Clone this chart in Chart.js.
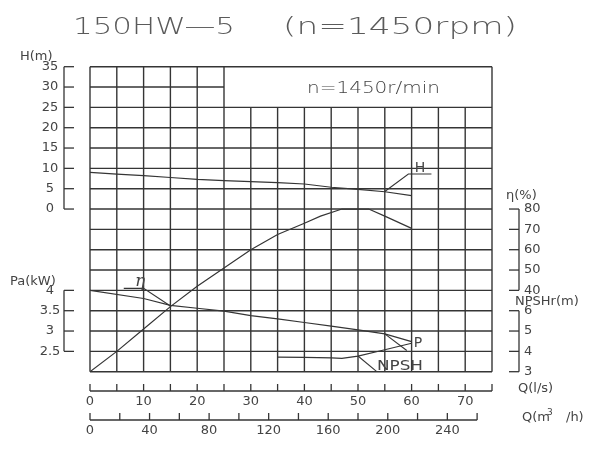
<!DOCTYPE html>
<html>
<head>
<meta charset="utf-8">
<script src="https://cdn.jsdelivr.net/npm/chart.js@4"></script>
<style>
  body { margin: 0; background: #fff; }
  canvas { display: block; }
</style>
</head>
<body>
<canvas id="pump" width="600" height="450"></canvas>
<script>
// curve data (flow in l/s)
const qHead = [0, 5, 10, 15, 20, 25, 30, 35, 40, 45, 50, 55, 60];
const head = [9.0, 8.6, 8.2, 7.75, 7.3, 7.0, 6.75, 6.5, 6.15, 5.35, 4.85, 4.25, 3.3];

const qEta = [0, 5, 10, 15, 20, 25, 30, 35, 40, 43, 47, 52, 55, 60];
const efficiency = [0, 10, 21, 32, 42, 51, 60, 67.5, 73, 76.5, 80, 80, 76.5, 70.5];

const qPower = [0, 10, 15, 20, 25, 30, 35, 40, 45, 50, 55, 60];
const power = [4.0, 3.8, 3.63, 3.56, 3.49, 3.38, 3.3, 3.21, 3.12, 3.03, 2.93, 2.74];

const qNpsh = [35, 40, 45, 47, 50, 55, 60];
const npsh = [3.72, 3.7, 3.68, 3.66, 3.77, 4.08, 4.4];

// axis ticks
const hTicks = [0, 5, 10, 15, 20, 25, 30, 35];
const paTicks = ['2.5', '3', '3.5', '4'];
const etaTicks = [40, 50, 60, 70, 80];
const npshTicks = [3, 4, 5, 6];
const qLsMarks = [0, 5, 10, 15, 20, 25, 30, 35, 40, 45, 50, 55, 60, 65, 70, 75];
const qLsLabels = [0, 10, 20, 30, 40, 50, 60, 70];
const qM3Marks = [0, 20, 40, 60, 80, 100, 120, 140, 160, 180, 200, 220, 240, 260];
const qM3Labels = [0, 40, 80, 120, 160, 200, 240];

const ink = '#353535';
const textInk = '#444';

function pts(xs, ys) {
    return xs.map((x, i) => ({ x: x, y: ys[i] }));
}

function line(ctx, x1, y1, x2, y2) {
    ctx.beginPath();
    ctx.moveTo(x1, y1);
    ctx.lineTo(x2, y2);
    ctx.stroke();
}

// text squeezed/stretched into a given width (cad font is wide)
function fitText(ctx, txt, x1, x2, y, font) {
    ctx.save();
    ctx.font = font;
    ctx.textAlign = 'left';
    ctx.textBaseline = 'middle';
    const w = ctx.measureText(txt).width;
    ctx.translate(x1, y);
    ctx.scale((x2 - x1) / w, 1);
    ctx.fillText(txt, 0, 0);
    ctx.restore();
}

function label(ctx, txt, x, y, align) {
    ctx.textAlign = align || 'center';
    ctx.textBaseline = 'middle';
    ctx.fillText(txt, x, y);
}

const sheetPlugin = {
    id: 'sheet',
    beforeDatasetsDraw(chart) {
        const ctx = chart.ctx;
        const s = chart.scales;
        const X = v => s.x.getPixelForValue(v);
        const H = v => s.yH.getPixelForValue(v);
        ctx.save();
        ctx.strokeStyle = ink;
        ctx.lineWidth = 1.4;
        // vertical grid
        qLsMarks.forEach(q => {
            const top = (q <= 25 || q === 75) ? 35 : 25;
            line(ctx, X(q), H(top), X(q), H(-40));
        });
        // horizontal grid
        for (let h = -40; h <= 25; h += 5) line(ctx, X(0), H(h), X(75), H(h));
        line(ctx, X(0), H(30), X(25), H(30));
        line(ctx, X(0), H(35), X(75), H(35));
        ctx.restore();
    },
    afterDraw(chart) {
        const ctx = chart.ctx;
        const s = chart.scales;
        const X = v => s.x.getPixelForValue(v);
        const XM = v => s.xM3.getPixelForValue(v);
        const H = v => s.yH.getPixelForValue(v);
        const E = v => s.yEta.getPixelForValue(v);
        const P = v => s.yPa.getPixelForValue(v);
        const N = v => s.yNpsh.getPixelForValue(v);
        ctx.save();
        ctx.strokeStyle = ink;
        ctx.fillStyle = textInk;
        ctx.lineWidth = 1.3;

        // title
        ctx.fillStyle = '#5a5a5a';
        fitText(ctx, '150HW\u20145', 73, 235, 28, '200 23px "DejaVu Sans"');
        fitText(ctx, '(n=1450rpm)', 283, 517, 28, '200 23px "DejaVu Sans"');
        ctx.fillStyle = textInk;
        fitText(ctx, 'n=1450r/min', 307, 440, 89, '300 16px "DejaVu Sans"');

        ctx.font = '13px "DejaVu Sans"';
        // left axes
        const lx = 64;
        line(ctx, lx, H(0), lx, H(35));
        hTicks.forEach(v => {
            line(ctx, lx, H(v), lx + 10, H(v));
            label(ctx, String(v), 50, H(v));
        });
        line(ctx, lx, P(2.5), lx, P(4));
        paTicks.forEach(v => {
            line(ctx, lx, P(+v), lx + 10, P(+v));
            label(ctx, v, 50, P(+v));
        });
        label(ctx, 'H(m)', 20, 57, 'left');
        label(ctx, 'Pa(kW)', 10, 282, 'left');

        // right axes
        const rx = 519;
        line(ctx, rx, E(40), rx, E(80));
        etaTicks.forEach(v => {
            line(ctx, rx - 10, E(v), rx, E(v));
            label(ctx, String(v), 524, E(v), 'left');
        });
        line(ctx, rx, N(3), rx, N(6));
        npshTicks.forEach(v => {
            line(ctx, rx - 10, N(v), rx, N(v));
            label(ctx, String(v), 524, N(v), 'left');
        });
        label(ctx, '\u03b7(%)', 506, 196, 'left');
        label(ctx, 'NPSHr(m)', 515, 302, 'left');

        // bottom axes
        const by1 = 391, by2 = 420;
        line(ctx, X(0), by1, X(75), by1);
        qLsMarks.forEach(q => line(ctx, X(q), by1, X(q), by1 - 7));
        qLsLabels.forEach(q => label(ctx, String(q), X(q), 402));
        line(ctx, XM(0), by2, XM(260), by2);
        qM3Marks.forEach(q => line(ctx, XM(q), by2, XM(q), by2 - 7));
        qM3Labels.forEach(q => label(ctx, String(q), XM(q), 431));
        label(ctx, 'Q(l/s)', 518, 389, 'left');
        label(ctx, 'Q(m', 522, 418, 'left');
        ctx.font = '9px "DejaVu Sans"';
        label(ctx, '3', 547, 413, 'left');
        ctx.font = '13px "DejaVu Sans"';
        label(ctx, '/h)', 566, 418, 'left');

        // curve tags and leaders
        ctx.lineWidth = 1.1;
        ctx.beginPath();
        ctx.moveTo(X(55), H(4.3));
        ctx.lineTo(X(59.4), H(8.6));
        ctx.lineTo(X(63.7), H(8.6));
        ctx.stroke();
        ctx.font = '14px "DejaVu Sans"';
        label(ctx, 'H', 420, 168);

        ctx.beginPath();
        ctx.moveTo(X(15), E(32.3));
        ctx.lineTo(X(10), E(41));
        ctx.lineTo(X(6.3), E(41));
        ctx.stroke();
        ctx.font = 'italic 17px "DejaVu Serif"';
        label(ctx, '\u03b7', 140, 282);

        line(ctx, X(55), P(2.93), X(59.1), P(2.52));
        ctx.font = '14px "DejaVu Sans"';
        label(ctx, 'P', 418, 343);

        line(ctx, X(50), N(3.77), X(53.5), N(3.0));
        fitText(ctx, 'NPSH', 377, 423, 366, '14px "DejaVu Sans"');
        ctx.restore();
    }
};

function curve(data, axis) {
    return {
        data: data,
        yAxisID: axis,
        borderColor: ink,
        borderWidth: 1.2,
        pointRadius: 0,
        tension: 0,
        fill: false
    };
}

new Chart(document.getElementById('pump'), {
    type: 'line',
    data: {
        datasets: [
            curve(pts(qHead, head), 'yH'),
            curve(pts(qEta, efficiency), 'yEta'),
            curve(pts(qPower, power), 'yPa'),
            curve(pts(qNpsh, npsh), 'yNpsh')
        ]
    },
    options: {
        responsive: false,
        animation: false,
        layout: { padding: { left: 90, right: 108, top: 66.7, bottom: 78.3 } },
        plugins: { legend: { display: false }, tooltip: { enabled: false } },
        scales: {
            x: { type: 'linear', min: 0, max: 75, display: false },
            xM3: { type: 'linear', axis: 'x', min: 0, max: 270, display: false },
            yH: { type: 'linear', min: -40, max: 35, display: false },
            yEta: { type: 'linear', min: 0, max: 150, display: false },
            yPa: { type: 'linear', min: 2, max: 9.5, display: false },
            yNpsh: { type: 'linear', min: 3, max: 18, display: false }
        }
    },
    plugins: [sheetPlugin]
});
</script>
</body>
</html>
